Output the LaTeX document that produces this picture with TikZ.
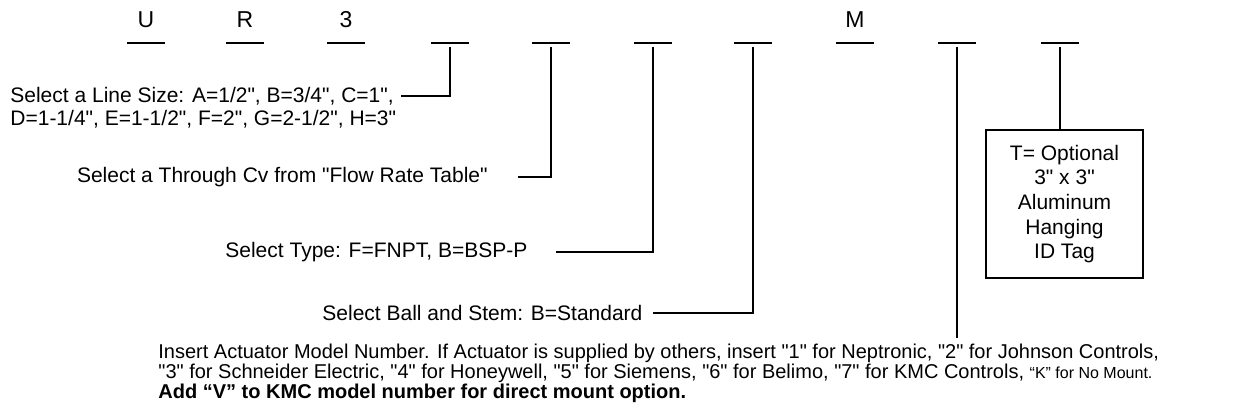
\documentclass[tikz,border=0pt]{standalone}
\usepackage{fontspec}
\setmainfont{Liberation Sans}[Ligatures=TeXOff]
\usetikzlibrary{positioning}

\tikzset{
  code/.style={font=\fontsize{11.5}{13}\selectfont, inner sep=0pt},
  slot/.style={minimum width=18.5pt, minimum height=0pt, inner sep=0pt},
  lbl/.style={font=\fontsize{10.5}{12.3}\selectfont, inner sep=0pt},
  tick/.style={line width=0.65pt},
  bar/.style={line width=1pt},
  tagbox/.style={draw, line width=0.75pt, align=center, minimum width=78.5pt, minimum height=74pt, font=\fontsize{10.5}{12.3}\selectfont}
}

\begin{document}
\begin{tikzpicture}[x=0.5pt,y=-0.5pt]
\useasboundingbox (0,0) rectangle (1236,412);

% model code
\node[code] (lU) at (146,20) {U};
\node[code] (lR) at (245,20) {R};
\node[code] (l3) at (346,20) {3};
\node[code] (lM) at (855,20) {M};

\node[slot] (s1) at (146,43) {};
\node[slot] (s2) at (245,43) {};
\node[slot] (s3) at (346,43) {};
\node[slot] (s4) at (450,43) {};
\node[slot] (s5) at (551,43) {};
\node[slot] (s6) at (653,43) {};
\node[slot] (s7) at (753,43) {};
\node[slot] (s8) at (855,43) {};
\node[slot] (s9) at (957,43) {};
\node[slot] (s10) at (1060,43) {};
\draw[bar] (s1.west) -- (s1.east);
\draw[bar] (s2.west) -- (s2.east);
\draw[bar] (s3.west) -- (s3.east);
\draw[bar] (s4.west) -- (s4.east);
\draw[bar] (s5.west) -- (s5.east);
\draw[bar] (s6.west) -- (s6.east);
\draw[bar] (s7.west) -- (s7.east);
\draw[bar] (s8.west) -- (s8.east);
\draw[bar] (s9.west) -- (s9.east);
\draw[bar] (s10.west) -- (s10.east);

% option texts
\node[lbl, anchor=west] (size1) at (10,96) {Select a Line Size: A=1/2", B=3/4", C=1",};
\node[lbl, anchor=west] (size2) at (10,119) {D=1-1/4", E=1-1/2", F=2", G=2-1/2", H=3"};
\node[lbl, anchor=east] (cv) at (488,177) {Select a Through Cv from "Flow Rate Table"};
\node[lbl, anchor=west] (type) at (225,252) {Select Type: F=FNPT, B=BSP-P};
\node[lbl, anchor=west] (ball) at (322,313) {Select Ball and Stem: B=Standard};
\node[lbl, anchor=north west, align=left, font=\fontsize{10}{9.8}\selectfont] (act) at (158,344)
  {Insert Actuator Model Number. If Actuator is supplied by others, insert "1" for Neptronic, "2" for Johnson Controls,\\
   "3" for Schneider Electric, "4" for Honeywell, "5" for Siemens, "6" for Belimo, "7" for KMC Controls, {\fontsize{8}{9}\selectfont “K” for No Mount.}\\
   \textbf{Add “V” to KMC model number for direct mount option.}};
\node[tagbox] (tag) at (1064.5,204) {T= Optional\\3" x 3"\\Aluminum\\Hanging\\ID Tag};

\draw[tick] ([yshift=-2pt]s4.south) |- ([xshift=3.5pt]size1.east);
\draw[tick] ([yshift=-2pt]s5.south) |- ([xshift=15pt]cv.east);
\draw[tick] ([yshift=-2pt]s6.south) |- ([xshift=14pt]type.east);
\draw[tick] ([yshift=-2pt]s7.south) |- ([xshift=5pt]ball.east);
\draw[tick] ([yshift=-2pt]s9.south) -- ([yshift=3pt]act.north -| s9);
\draw[tick] ([yshift=-2pt]s10.south) -- (tag.north -| s10);

\end{tikzpicture}
\end{document}
